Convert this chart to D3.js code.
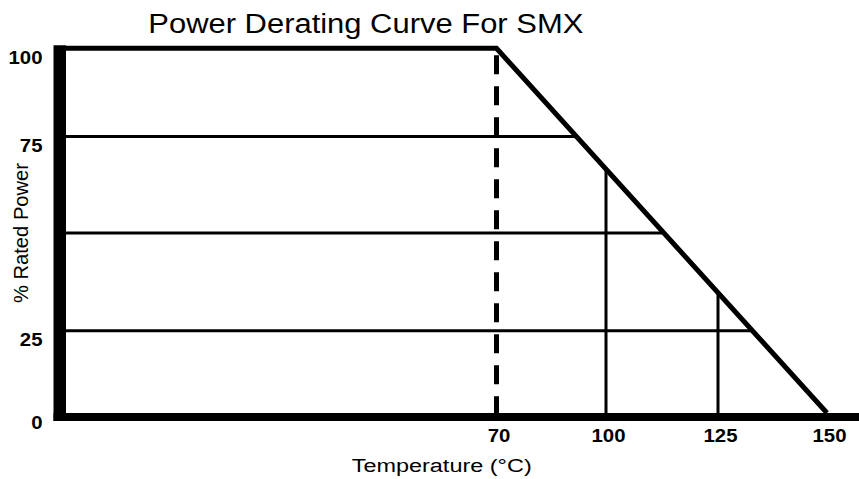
<!DOCTYPE html>
<html>
<head>
<meta charset="utf-8">
<script src="https://cdn.jsdelivr.net/npm/d3@7"></script>
<style>
  html, body { margin: 0; padding: 0; background: #fff; }
  svg { display: block; }
  text { font-family: "Liberation Sans", Arial, Helvetica, sans-serif; fill: #000; }
</style>
</head>
<body>
<svg id="chart" width="859" height="479"></svg>
<script>
// ---- data ----
const title = "Power Derating Curve For SMX";
const xTitle = "Temperature (\u00B0C)";
const yTitle = "% Rated Power";
const xTickValues = [70, 100, 125, 150];
const yTickValues = [0, 25, 75, 100];
const gridLevels = [75, 50, 25];          // % rated power reference lines
const markerTemps = [100, 125];           // vertical reference lines (°C)
const curveTemps = [-55, 70, 150];        // derating curve: temperature
const curvePower = [100, 100, 0];         // derating curve: % rated power
const ratedTemp = 70;                     // dashed knee line
const xDomain = [-55, 70, 100, 125, 150];
const yDomain = [0, 25, 50, 75, 100];

// ---- layout ----
const W = 859, H = 479;
const svg = d3.select("#chart");

// The drawing's spacing is not uniform, so use piecewise-linear scales
const x = d3.scaleLinear().domain(xDomain).range([66, 496.5, 606, 718, 827]);
const y = d3.scaleLinear().domain(yDomain).range([413, 330.7, 233, 136.5, 48.3]);

const stretch = 1.165;
const x0 = x.range()[0];
const y0 = y(0);

// curve endpoints in pixels (for intersection of reference lines)
const kneeX = x(ratedTemp), kneeY = y(100);
const endX = x(curveTemps[2]), endY = y(curvePower[2]);

// ---- horizontal reference lines ----
svg.append("g").selectAll("line").data(gridLevels).join("line")
  .attr("x1", x0)
  .attr("x2", p => kneeX + (y(p) - kneeY) / (endY - kneeY) * (endX - kneeX))
  .attr("y1", p => y(p)).attr("y2", p => y(p))
  .attr("stroke", "#000").attr("stroke-width", 3);

// ---- vertical reference lines ----
svg.append("g").selectAll("line").data(markerTemps).join("line")
  .attr("x1", t => x(t)).attr("x2", t => x(t))
  .attr("y1", y0)
  .attr("y2", t => kneeY + (x(t) - kneeX) / (endX - kneeX) * (endY - kneeY))
  .attr("stroke", "#000").attr("stroke-width", 3);

// ---- dashed knee line ----
svg.append("line")
  .attr("x1", x(ratedTemp)).attr("x2", x(ratedTemp))
  .attr("y1", y(100)).attr("y2", y(0))
  .attr("stroke", "#000").attr("stroke-width", 5)
  .attr("stroke-dasharray", "19,12").attr("stroke-dashoffset", 24);

// ---- derating curve ----
const curve = curveTemps.map((t, i) => [t, curvePower[i]]);
svg.append("path")
  .datum(curve)
  .attr("d", d3.line().x(d => x(d[0])).y(d => y(d[1])))
  .attr("fill", "none").attr("stroke", "#000").attr("stroke-width", 5)
  .attr("stroke-linejoin", "miter");

// ---- thick axis lines ----
svg.append("line")
  .attr("x1", x0 - 6.25).attr("x2", x0 - 6.25)
  .attr("y1", y(100) - 3).attr("y2", y0 + 8)
  .attr("stroke", "#000").attr("stroke-width", 12.5);
svg.append("line")
  .attr("x1", x0 - 12.5).attr("x2", W)
  .attr("y1", y0 + 4).attr("y2", y0 + 4)
  .attr("stroke", "#000").attr("stroke-width", 8);

// ---- axes (ticks labels only) ----
const xAxis = d3.axisBottom(x).tickValues(xTickValues).tickSize(0).tickPadding(0);
const gx = svg.append("g").attr("transform", `translate(2,${y0})`).call(xAxis);
gx.select(".domain").remove();
gx.selectAll("text")
  .attr("y", 29.5).attr("dy", 0)
  .attr("font-family", "'Liberation Sans', Arial, sans-serif")
  .attr("font-size", 17.5).attr("font-weight", "bold").attr("fill", "#000")
  .attr("transform", `scale(${stretch},1)`);

const yAxis = d3.axisLeft(y).tickValues(yTickValues).tickSize(0).tickPadding(0);
const gy = svg.append("g").attr("transform", "translate(42.5,0)").call(yAxis);
gy.select(".domain").remove();
gy.selectAll("text")
  .attr("x", 0).attr("dy", 0).attr("y", 15)
  .attr("text-anchor", "end")
  .attr("font-family", "'Liberation Sans', Arial, sans-serif")
  .attr("font-size", 17.5).attr("font-weight", "bold").attr("fill", "#000")
  .attr("transform", `scale(${stretch},1)`);

// ---- titles ----
svg.append("text")
  .attr("x", 148.3).attr("y", 33.3)
  .attr("font-size", 27)
  .attr("textLength", 435).attr("lengthAdjust", "spacingAndGlyphs")
  .text(title);

svg.append("text")
  .attr("x", 351.7).attr("y", 471.8)
  .attr("font-size", 18.8)
  .attr("textLength", 180).attr("lengthAdjust", "spacingAndGlyphs")
  .text(xTitle);

svg.append("text")
  .attr("transform", "translate(28,233) rotate(-90)")
  .attr("text-anchor", "middle")
  .attr("font-size", 20)
  .attr("textLength", 140).attr("lengthAdjust", "spacingAndGlyphs")
  .text(yTitle);
</script>
</body>
</html>
